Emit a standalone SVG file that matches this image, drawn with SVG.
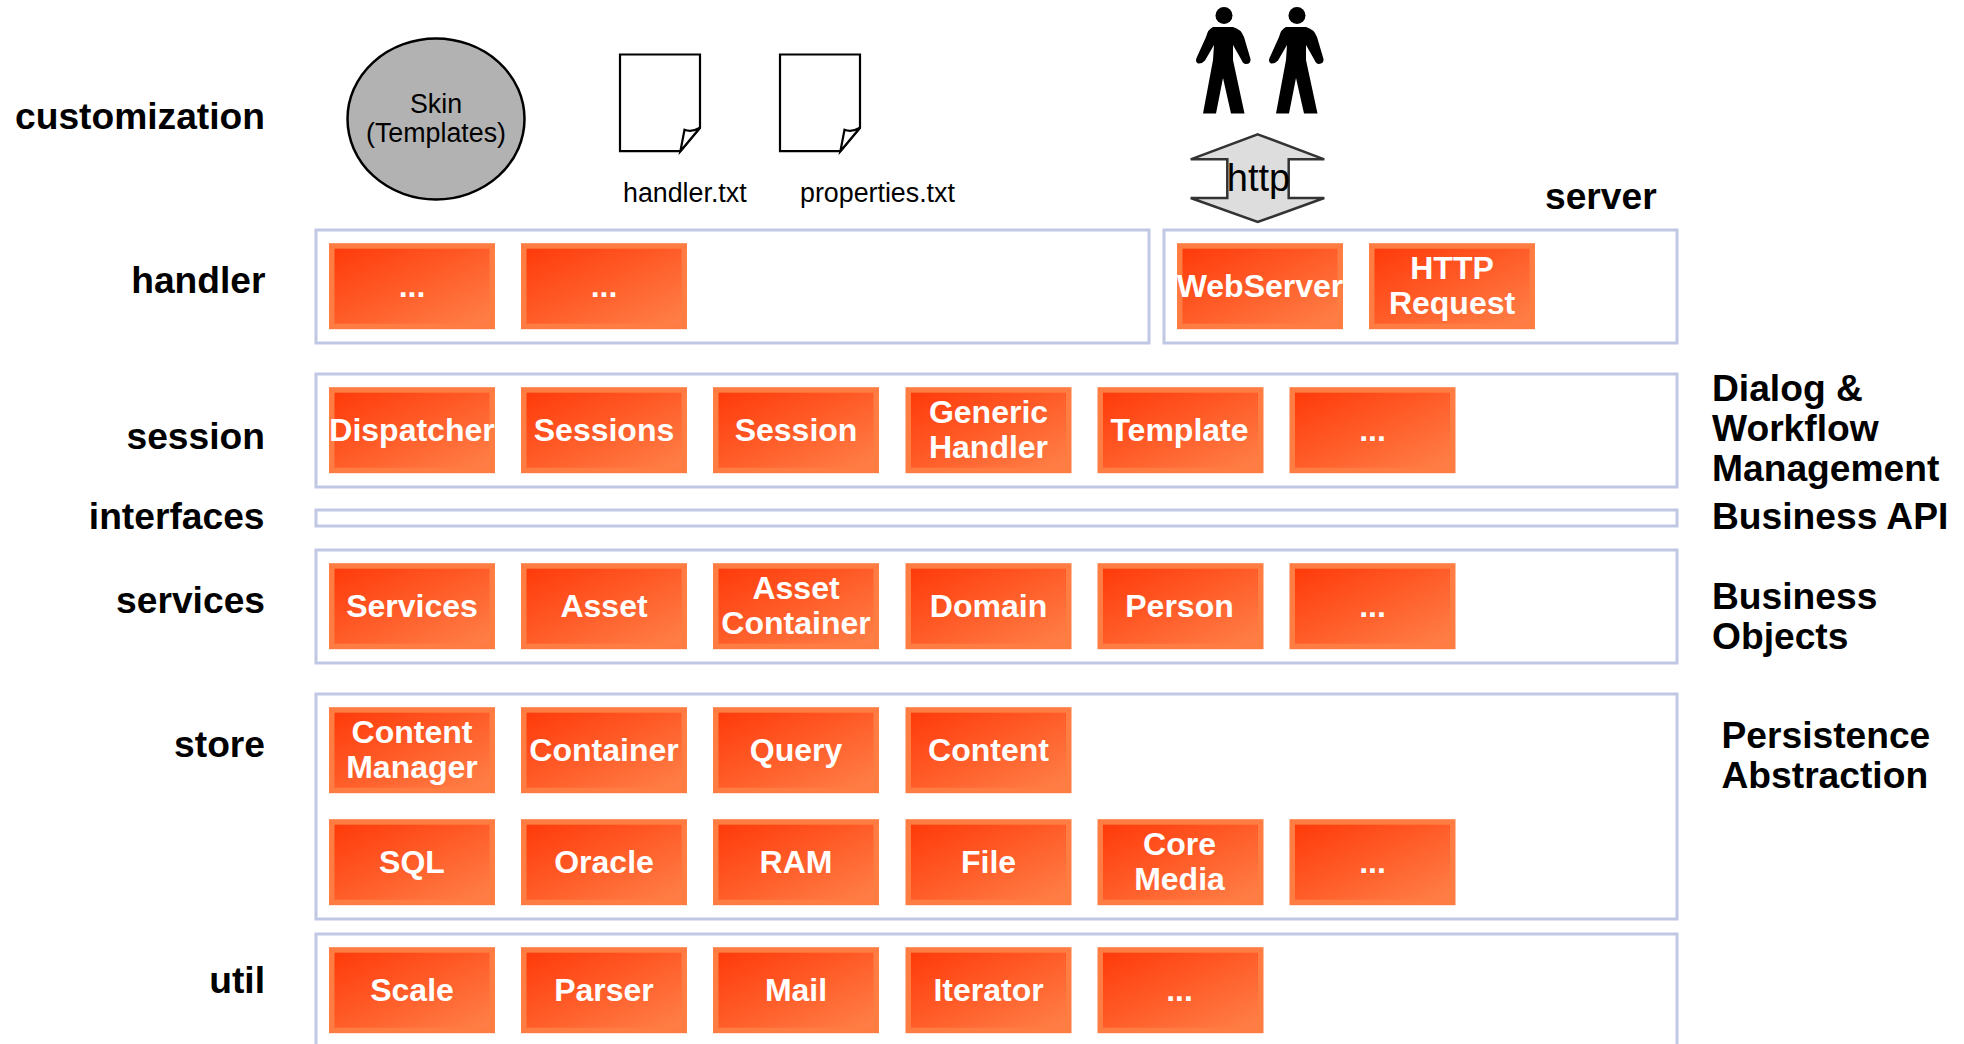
<svg xmlns="http://www.w3.org/2000/svg" width="1964" height="1044" viewBox="0 0 1964 1044">
<style>
text{font-family:"Liberation Sans",Arial,sans-serif}
.lane{fill:#fff;stroke:#C0C8E4;stroke-width:3}
.o{fill:#FF7D42}
.i{fill:url(#g)}
.n{fill:#fff;font-weight:bold;font-size:32px;text-anchor:middle}
.l{fill:#000;font-weight:bold;font-size:37.200px;text-anchor:end}
.r{fill:#000;font-weight:bold;font-size:37.200px}
.t{fill:#000;font-size:26.800px}
.doc{fill:#fff;stroke:#000;stroke-width:2.200}
</style>
<defs>
<linearGradient id="g" x1="0" y1="0" x2="1" y2="1"><stop offset="0" stop-color="#FF3A0A"/><stop offset="1" stop-color="#FF8048"/></linearGradient>
<g id="box"><rect class="o" width="166" height="86"/><rect class="i" x="5.500" y="5.500" width="155" height="75"/></g>
<g id="person"><circle cx="1224" cy="15.500" r="8.500"/><path d="M1213 27H1233Q1241 29 1244 37L1250.500 59Q1251 64 1246 64Q1243 64 1241.500 60L1233 45L1233 60L1244.500 113.500H1231L1223 78L1216 113.500H1203L1213 60L1214 45L1205 60.500Q1202 64 1198 63.500Q1195 62 1196.500 58L1206 37Q1208 29 1213 27Z"/></g>
<g id="doc"><path class="doc" d="M620 54.500H700V127.800L680.400 151.200H620Z"/><path class="doc" d="M680.400 151.200L684.500 129.800Q692 132.500 700 127.800Z"/></g>
</defs>

<g id="lanes">
<rect class="lane" x="316" y="230" width="833" height="113"/>
<rect class="lane" x="1164" y="230" width="513" height="113"/>
<rect class="lane" x="316" y="374" width="1361" height="113"/>
<rect class="lane" x="316" y="510" width="1361" height="16"/>
<rect class="lane" x="316" y="550" width="1361" height="113"/>
<rect class="lane" x="316" y="694" width="1361" height="225"/>
<rect class="lane" x="316" y="934" width="1361" height="130"/>
</g>

<g id="connectors"></g>

<g id="skin"><ellipse cx="436" cy="119" rx="88.500" ry="80.500" fill="#B2B2B2" stroke="#000" stroke-width="2.500"/><text class="t" x="436" y="113" text-anchor="middle">Skin</text><text class="t" x="436" y="142" text-anchor="middle">(Templates)</text></g>
<g id="handler-txt"><use href="#doc"/><text class="t" x="623" y="202">handler.txt</text></g>
<g id="properties-txt"><use href="#doc" x="160"/><text class="t" x="800" y="202">properties.txt</text></g>
<g id="users"><use href="#person"/><use href="#person" x="73"/></g>
<g id="http"><path d="M1257.700 134.300L1324.300 159.300H1288.700V198H1324.300L1257.700 222L1190.700 198H1227.300V159.300H1190.700Z" fill="#DDD" stroke="#333" stroke-width="2.500"/><text x="1258.500" y="191" text-anchor="middle" font-size="38" fill="#000">http</text></g>

<g id="labels-left">
<text class="l" x="265" y="128.500">customization</text>
<text class="l" x="265.500" y="292.500">handler</text>
<text class="l" x="265" y="448.500">session</text>
<text class="l" x="264.500" y="528.500">interfaces</text>
<text class="l" x="265" y="612.500">services</text>
<text class="l" x="265" y="756.500">store</text>
<text class="l" x="265" y="992.500">util</text>
</g>
<g id="labels-right">
<text class="r" x="1545" y="208.500">server</text>
<text class="r" x="1712" y="400.500">Dialog &amp;</text>
<text class="r" x="1712" y="440.500">Workflow</text>
<text class="r" x="1712" y="480.500">Management</text>
<text class="r" x="1712" y="528.500">Business API</text>
<text class="r" x="1712" y="608.500">Business</text>
<text class="r" x="1712" y="648.500">Objects</text>
<text class="r" x="1721.500" y="748">Persistence</text>
<text class="r" x="1721.500" y="788">Abstraction</text>
</g>

<g id="nodes" transform="translate(-0.500 -0.800)">
<g id="n-h1"><use href="#box" x="329.500" y="244"/><text class="n" x="412.500" y="298">...</text></g>
<g id="n-h2"><use href="#box" x="521.500" y="244"/><text class="n" x="604.500" y="298">...</text></g>
<g id="n-webserver"><use href="#box" x="1177.500" y="244"/><text class="n" x="1260.500" y="298">WebServer</text></g>
<g id="n-httprequest"><use href="#box" x="1369.500" y="244"/><text class="n" x="1452.500" y="280">HTTP</text><text class="n" x="1452.500" y="315">Request</text></g>

<g id="n-dispatcher"><use href="#box" x="329.500" y="388"/><text class="n" x="412.500" y="442">Dispatcher</text></g>
<g id="n-sessions"><use href="#box" x="521.500" y="388"/><text class="n" x="604.500" y="442">Sessions</text></g>
<g id="n-session"><use href="#box" x="713.500" y="388"/><text class="n" x="796.500" y="442">Session</text></g>
<g id="n-generichandler"><use href="#box" x="906" y="388"/><text class="n" x="989" y="424">Generic</text><text class="n" x="989" y="459">Handler</text></g>
<g id="n-template"><use href="#box" x="1098" y="388"/><text class="n" x="1180" y="442">Template</text></g>
<g id="n-s6"><use href="#box" x="1290" y="388"/><text class="n" x="1373" y="442">...</text></g>

<g id="n-services"><use href="#box" x="329.500" y="564"/><text class="n" x="412.500" y="618">Services</text></g>
<g id="n-asset"><use href="#box" x="521.500" y="564"/><text class="n" x="604.500" y="618">Asset</text></g>
<g id="n-assetcontainer"><use href="#box" x="713.500" y="564"/><text class="n" x="796.500" y="600">Asset</text><text class="n" x="796.500" y="635">Container</text></g>
<g id="n-domain"><use href="#box" x="906" y="564"/><text class="n" x="989" y="618">Domain</text></g>
<g id="n-person"><use href="#box" x="1098" y="564"/><text class="n" x="1180" y="618">Person</text></g>
<g id="n-b6"><use href="#box" x="1290" y="564"/><text class="n" x="1373" y="618">...</text></g>

<g id="n-contentmanager"><use href="#box" x="329.500" y="708"/><text class="n" x="412.500" y="744">Content</text><text class="n" x="412.500" y="779">Manager</text></g>
<g id="n-container"><use href="#box" x="521.500" y="708"/><text class="n" x="604.500" y="762">Container</text></g>
<g id="n-query"><use href="#box" x="713.500" y="708"/><text class="n" x="796.500" y="762">Query</text></g>
<g id="n-content"><use href="#box" x="906" y="708"/><text class="n" x="989" y="762">Content</text></g>

<g id="n-sql"><use href="#box" x="329.500" y="820"/><text class="n" x="412.500" y="874">SQL</text></g>
<g id="n-oracle"><use href="#box" x="521.500" y="820"/><text class="n" x="604.500" y="874">Oracle</text></g>
<g id="n-ram"><use href="#box" x="713.500" y="820"/><text class="n" x="796.500" y="874">RAM</text></g>
<g id="n-file"><use href="#box" x="906" y="820"/><text class="n" x="989" y="874">File</text></g>
<g id="n-coremedia"><use href="#box" x="1098" y="820"/><text class="n" x="1180" y="856">Core</text><text class="n" x="1180" y="891">Media</text></g>
<g id="n-st6"><use href="#box" x="1290" y="820"/><text class="n" x="1373" y="874">...</text></g>

<g id="n-scale"><use href="#box" x="329.500" y="948"/><text class="n" x="412.500" y="1002">Scale</text></g>
<g id="n-parser"><use href="#box" x="521.500" y="948"/><text class="n" x="604.500" y="1002">Parser</text></g>
<g id="n-mail"><use href="#box" x="713.500" y="948"/><text class="n" x="796.500" y="1002">Mail</text></g>
<g id="n-iterator"><use href="#box" x="906" y="948"/><text class="n" x="989" y="1002">Iterator</text></g>
<g id="n-u5"><use href="#box" x="1098" y="948"/><text class="n" x="1180" y="1002">...</text></g>
</g>
</svg>
